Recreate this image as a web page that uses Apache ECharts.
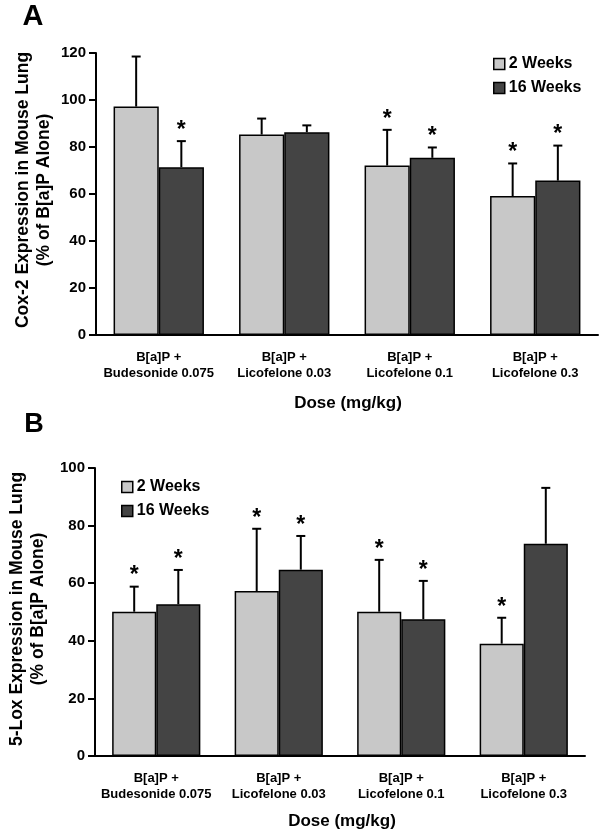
<!DOCTYPE html>
<html>
<head>
<meta charset="utf-8">
<script src="https://cdn.jsdelivr.net/npm/echarts@6/dist/echarts.min.js"></script>
<style>
  html, body { margin: 0; padding: 0; background: #fff; }
  #chart { width: 603px; height: 835px; }
</style>
</head>
<body>
<div id="chart"></div>
<script>
const categories = [
  'B[a]P +\nBudesonide 0.075',
  'B[a]P +\nLicofelone 0.03',
  'B[a]P +\nLicofelone 0.1',
  'B[a]P +\nLicofelone 0.3'
];
const seriesNames = ['2 Weeks', '16 Weeks'];

// Panel A: Cox-2
const cox2Week2 = [97.2, 85.3, 72.1, 59.1];
const cox2Week2Sd = [21.3, 6.8, 15.2, 13.9];
const cox2Week16 = [71.4, 86.3, 75.4, 65.7];
const cox2Week16Sd = [11.1, 2.9, 4.4, 14.9];
const cox2Sig2 = [0, 0, 1, 1];
const cox2Sig16 = [1, 0, 1, 1];

// Panel B: 5-Lox
const lox5Week2 = [50.1, 57.3, 50.1, 39.0];
const lox5Week2Sd = [8.7, 21.6, 18.0, 9.0];
const lox5Week16 = [52.7, 64.7, 47.5, 73.7];
const lox5Week16Sd = [11.9, 11.7, 13.3, 19.4];
const lox5Sig2 = [1, 1, 1, 1];
const lox5Sig16 = [1, 1, 1, 0];

const FONT = '"Liberation Sans", Arial, sans-serif';
const LIGHT = '#c8c8c8';
const DARK = '#444444';
const BAR_W = 0.36;

function barSeries(name, data, axis, color) {
  return {
    name,
    type: 'bar',
    xAxisIndex: axis,
    yAxisIndex: axis,
    data,
    barWidth: (BAR_W * 100) + '%',
    barGap: '0%',
    itemStyle: { color, borderColor: '#000', borderWidth: 1.5 },
    silent: true
  };
}

// error bar (upper only) plus the significance star
function errSeries(values, sd, sig, axis, side) {
  return {
    type: 'custom',
    xAxisIndex: axis,
    yAxisIndex: axis,
    silent: true,
    z: 3,
    data: values.map((v, i) => [i, v, v + sd[i], sig[i]]),
    renderItem(params, api) {
      const idx = api.value(0);
      const top = api.coord([idx, api.value(1)]);
      const cap = api.coord([idx, api.value(2)]);
      const band = api.size([1, 0])[0];
      const x = top[0] + side * band * BAR_W / 2;
      const lineStyle = { stroke: '#000', lineWidth: 2 };
      const children = [
        { type: 'line', shape: { x1: x, y1: top[1], x2: x, y2: cap[1] }, style: lineStyle },
        { type: 'line', shape: { x1: x - 4.5, y1: cap[1], x2: x + 4.5, y2: cap[1] }, style: lineStyle }
      ];
      if (api.value(3)) {
        children.push({
          type: 'text',
          x: x,
          y: cap[1] + 1,
          style: {
            text: '*', fill: '#000', font: 'bold 23px ' + FONT,
            textAlign: 'center', textVerticalAlign: 'bottom'
          }
        });
      }
      return { type: 'group', children };
    }
  };
}

function xAxisCfg(grid) {
  return {
    type: 'category',
    gridIndex: grid,
    data: categories,
    axisLine: { lineStyle: { color: '#000', width: 2 } },
    axisTick: { show: false },
    axisLabel: {
      interval: 0, color: '#000', fontFamily: FONT, fontWeight: 'bold',
      fontSize: 13, lineHeight: 16, margin: 14
    }
  };
}

function yAxisCfg(grid, max) {
  return {
    type: 'value',
    gridIndex: grid,
    min: 0,
    max,
    interval: 20,
    splitLine: { show: false },
    axisLine: { show: true, lineStyle: { color: '#000', width: 2 } },
    axisTick: { show: true, length: 7, lineStyle: { color: '#000', width: 2 } },
    axisLabel: { color: '#000', fontFamily: FONT, fontWeight: 'bold', fontSize: 15, margin: 10 }
  };
}

function legendCfg(left, top) {
  return {
    data: seriesNames,
    orient: 'vertical',
    left, top,
    icon: 'rect',
    itemWidth: 11,
    itemHeight: 11,
    itemGap: 8,
    selectedMode: false,
    itemStyle: { borderColor: '#000', borderWidth: 1.5 },
    textStyle: { color: '#000', fontFamily: FONT, fontWeight: 'bold', fontSize: 16, padding: [0, 0, 0, -1] }
  };
}

function textEl(text, x, y, font, rotation) {
  return {
    type: 'text', x, y, rotation: rotation || 0,
    style: { text, fill: '#000', font, textAlign: 'center', textVerticalAlign: 'middle', lineHeight: 21 }
  };
}

const chart = echarts.init(document.getElementById('chart'));
chart.setOption({
  animation: false,
  backgroundColor: '#fff',
  grid: [
    { left: 96, right: 5, top: 53, height: 282 },
    { left: 95, right: 18, top: 468, height: 288 }
  ],
  xAxis: [xAxisCfg(0), xAxisCfg(1)],
  yAxis: [yAxisCfg(0, 120), yAxisCfg(1, 100)],
  legend: [legendCfg(488, 51), legendCfg(116, 474)],
  series: [
    barSeries(seriesNames[0], cox2Week2, 0, LIGHT),
    barSeries(seriesNames[1], cox2Week16, 0, DARK),
    errSeries(cox2Week2, cox2Week2Sd, cox2Sig2, 0, -1),
    errSeries(cox2Week16, cox2Week16Sd, cox2Sig16, 0, 1),
    barSeries(seriesNames[0], lox5Week2, 1, LIGHT),
    barSeries(seriesNames[1], lox5Week16, 1, DARK),
    errSeries(lox5Week2, lox5Week2Sd, lox5Sig2, 1, -1),
    errSeries(lox5Week16, lox5Week16Sd, lox5Sig16, 1, 1)
  ],
  graphic: [
    textEl('A', 33, 17, 'bold 29px ' + FONT),
    textEl('B', 34, 425, 'bold 27px ' + FONT),
    textEl('Cox-2 Expression in Mouse Lung\n(% of B[a]P Alone)', 34, 190, 'bold 17.5px ' + FONT, Math.PI / 2),
    textEl('5-Lox Expression in Mouse Lung\n(% of B[a]P Alone)', 28, 609, 'bold 17.5px ' + FONT, Math.PI / 2),
    textEl('Dose (mg/kg)', 348, 403, 'bold 17px ' + FONT),
    textEl('Dose (mg/kg)', 342, 821, 'bold 17px ' + FONT)
  ]
});
</script>
</body>
</html>
